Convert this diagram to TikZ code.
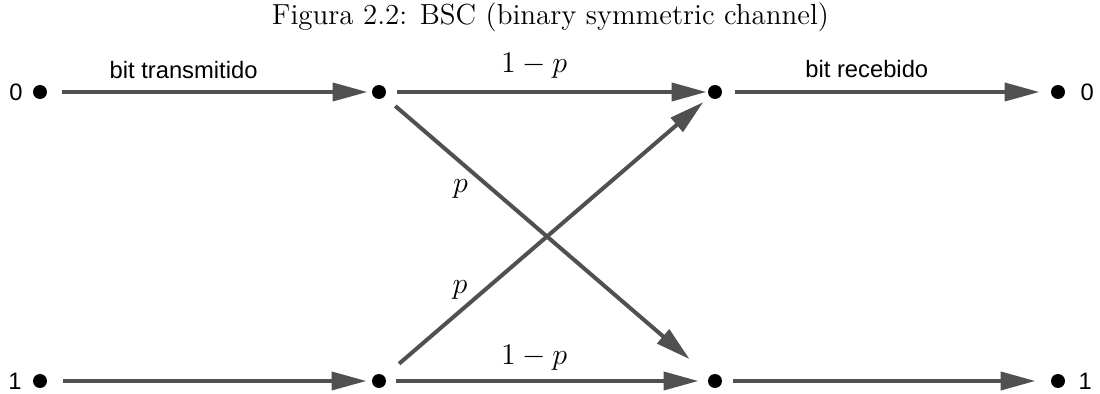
\documentclass[tikz,border=0pt]{standalone}
\usepackage{amsmath}
\usepackage{fontspec}
\newfontfamily\arialfont{Liberation Sans}
\usetikzlibrary{arrows.meta, positioning, calc}
\definecolor{chgray}{RGB}{80,80,80}

\begin{document}
\begin{tikzpicture}[node distance=129.6pt, >={Triangle[length=14pt, width=7.2pt]},
    dot/.style={circle, fill=black, inner sep=0pt, minimum size=5.6pt},
    link/.style={->, line width=1.6pt, draw=chgray},
    bit/.style={font=\arialfont\fontsize{9.5}{11}\selectfont, inner sep=0pt},
    prob/.style={font=\large, inner sep=0pt}]
        \useasboundingbox (-16pt,36.8pt) rectangle (424pt,-120.8pt);
        % input, channel and output points
        \node[dot] (s0) at (0,0) {};
        \node[dot] (s1) [below=109.6pt of s0] {};
        \node[dot] (c0) [right=of s0] {};
        \node[dot] (c1) [below=109.6pt of c0] {};
        \node[dot] (r0) [right=128.4pt of c0] {};
        \node[dot] (r1) [below=109.6pt of r0] {};
        \node[dot] (o0) [right=131.2pt of r0] {};
        \node[dot] (o1) [below=109.6pt of o0] {};
        \node[bit] (in0) [left=3.8pt of s0] {0};
        \node[bit] (in1) [left=4.2pt of s1] {1};
        \node[bit] (out0) [right=5.8pt of o0] {0};
        \node[bit] (out1) [right=5pt of o1] {1};
        \node (title) [font=\fontsize{11.6}{14}\selectfont, inner sep=0pt, xshift=1.4pt, yshift=30pt]
            at ($(c0)!0.5!(r0)$) {Figura 2.2: BSC (binary symmetric channel)};
        % connectors
        \draw[link, shorten <=6pt, shorten >=1.6pt] (s0) -- (c0)
            node[bit, pos=0.42, above=4.6pt] {bit transmitido};
        \draw[link, shorten <=6.4pt, shorten >=2pt] (s1) -- (c1);
        \draw[link, shorten <=4pt, shorten >=0.4pt] (c0) -- (r0)
            node[prob, pos=0.46, above=4.5pt] {$1-p$};
        \draw[link, shorten <=3.6pt, shorten >=3.6pt] (c1) -- (r1)
            node[prob, pos=0.46, above=3.3pt] {$1-p$};
        \draw[link, shorten <=4.8pt, shorten >=4.4pt] (r0) -- (o0)
            node[bit, pos=0.44, above=5pt] {bit recebido};
        \draw[link, shorten <=4pt, shorten >=6pt] (r1) -- (o1);
        \draw[link, shorten <=5.6pt, shorten >=10.4pt] (c0) -- (r1)
            node[prob, pos=0.33, left=8.8pt] {$p$};
        \draw[link, shorten <=7.6pt, shorten >=3.2pt] (c1) -- (r0)
            node[prob, pos=0.31, left=6.4pt] {$p$};
      \end{tikzpicture}
\end{document}
